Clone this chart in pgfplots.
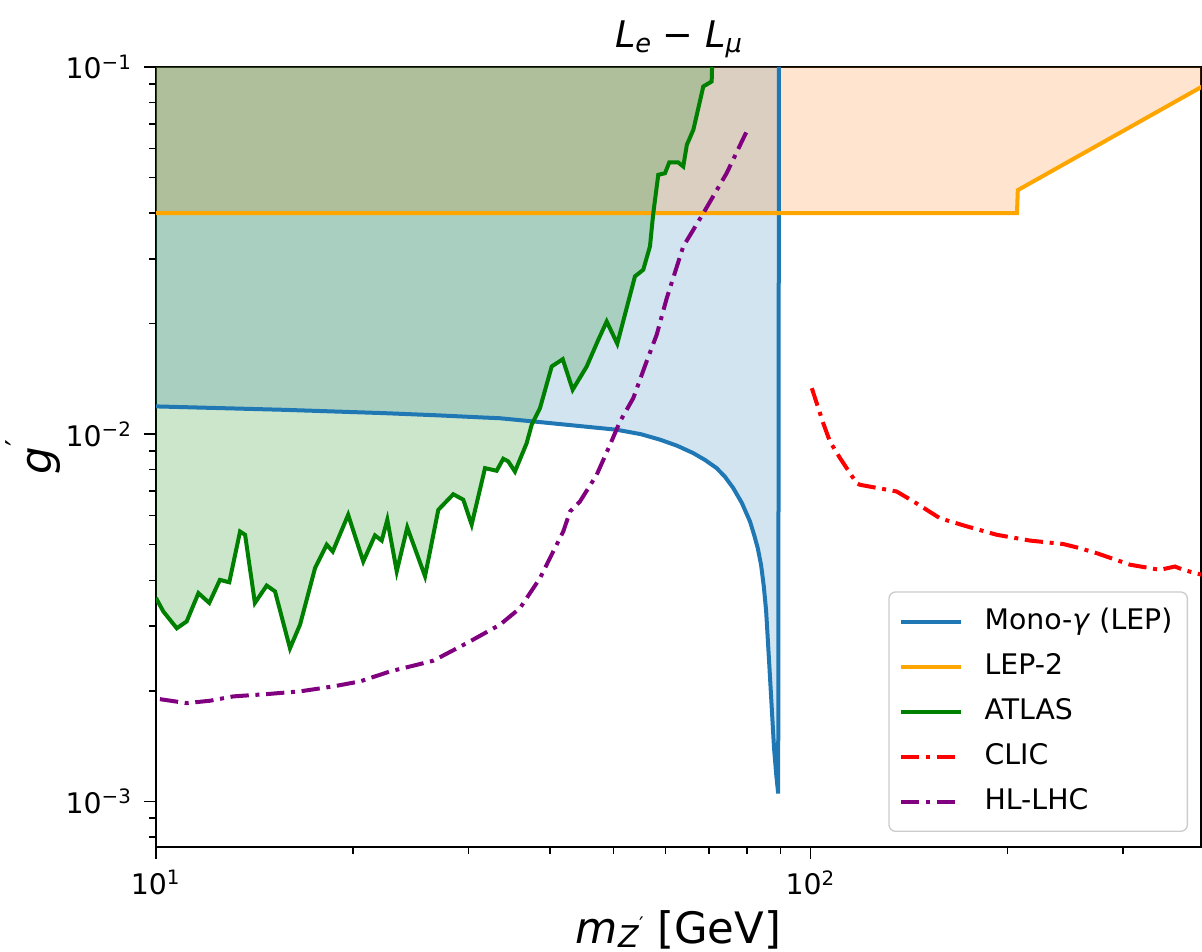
\documentclass[border=0pt]{standalone}
\usepackage{fontspec}
\setmainfont{DejaVu Sans}
\usepackage{pgfplots}
\usepackage{pgfplotstable}
\pgfplotsset{compat=1.18}
\usepgfplotslibrary{fillbetween}

\definecolor{mplblue}{HTML}{1F77B4}
\definecolor{mplorange}{HTML}{FF7F0E}
\definecolor{lineorange}{HTML}{FFA500}
\definecolor{mplgreen}{HTML}{008000}
\definecolor{mplpurple}{HTML}{800080}
\definecolor{mplred}{HTML}{FF0000}

% small lowered / raised text for the labels
\newcommand\lo[2]{\raisebox{-1.5pt}{\fontsize{#1}{#1}\selectfont #2}}
\newcommand\hi[2]{\raisebox{0.55em}{\fontsize{#1}{#1}\selectfont #2}}

% Mono-gamma (LEP)
\pgfplotstableread{
x y
10.0 0.01190
15.65 0.01165
22.25 0.01141
27.0 0.01125
31.62 0.01110
33.5 0.01105
37.7 0.01083
43.0 0.01058
50.55 0.01028
55.0 0.01000
58.87 0.00966
62.5 0.00930
66.16 0.00888
69.0 0.00850
71.84 0.00808
74.0 0.00765
76.17 0.00713
78.5 0.00650
80.79 0.00578
82.0 0.00530
83.0 0.00490
84.0 0.00440
84.8 0.00385
85.5 0.00330
86.4 0.00240
87.2 0.00180
87.9 0.00140
88.6 0.00118
89.2 0.00105
89.45 0.1
}\monodata

% LEP-2
\pgfplotstableread{
x y
10 0.04
206.6 0.04
207.2 0.0462
400 0.0893
}\lepdata

% ATLAS
\pgfplotstableread{
x y
10.0 0.00358
10.26 0.00329
10.76 0.00296
11.14 0.00309
11.61 0.00369
12.06 0.00347
12.52 0.00401
12.94 0.00395
13.44 0.00543
13.68 0.00532
14.16 0.00347
14.76 0.00387
15.20 0.00373
16.02 0.00261
16.60 0.00303
17.50 0.00432
18.23 0.00500
18.62 0.00479
19.66 0.00603
20.73 0.00450
21.60 0.00530
22.12 0.00513
22.56 0.00585
23.32 0.00423
24.20 0.00557
25.76 0.00410
26.99 0.00622
28.45 0.00686
29.47 0.00663
30.35 0.00567
31.81 0.00808
33.14 0.00795
33.92 0.00857
34.52 0.00843
35.34 0.00791
36.83 0.00945
37.49 0.01061
38.60 0.01177
40.22 0.01529
41.81 0.01600
43.30 0.01321
45.49 0.01529
47.38 0.01807
48.80 0.02027
50.65 0.01763
53.90 0.02689
55.50 0.02804
56.82 0.03245
57.49 0.03997
58.51 0.05085
59.91 0.05137
60.81 0.05494
62.77 0.05494
63.88 0.05358
64.70 0.06140
66.20 0.06750
68.55 0.08850
70.60 0.09130
70.70 0.1
}\atlasdata

% CLIC
\pgfplotstableread{
x y
100.4 0.01334
104.5 0.01072
107.0 0.00955
110.9 0.00860
117.5 0.00736
118.9 0.00728
135.3 0.00698
143.5 0.00656
157.6 0.00590
173.1 0.00561
192.4 0.00532
216.3 0.00513
243.1 0.00502
257.8 0.00489
273.5 0.00474
307.4 0.00441
341.6 0.00427
360.1 0.00436
370.8 0.00427
395.7 0.00414
}\clicdata

% HL-LHC
\pgfplotstableread{
x y
10.14 0.001898
11.14 0.001851
12.09 0.001879
13.12 0.001931
14.76 0.001959
16.60 0.001993
18.66 0.002056
20.49 0.002121
22.78 0.002258
26.52 0.002415
29.83 0.002696
33.53 0.003027
35.97 0.003357
38.60 0.004054
40.44 0.004793
41.89 0.005433
42.90 0.006159
44.43 0.006558
47.11 0.007750
49.37 0.009356
51.14 0.01083
53.58 0.01253
56.16 0.01578
58.18 0.01865
60.26 0.02342
63.88 0.03245
68.55 0.03997
74.42 0.05137
79.84 0.06673
}\hllhcdata

\begin{document}
\begin{tikzpicture}
\begin{axis}[
  name=ax,
  set layers,
  xmode=log, ymode=log,
  scale only axis,
  width=313.5pt, height=234pt,
  xmin=10, xmax=394.7,
  ymin=7.51e-4, ymax=0.1,
  xtick={10,100},
  xticklabels={10\textsuperscript{1},10\textsuperscript{2}},
  ytick={0.001,0.01,0.1},
  yticklabels={10\textsuperscript{−3},10\textsuperscript{−2},10\textsuperscript{−1}},
  minor xtick={20,30,40,50,60,70,80,90,200,300},
  minor ytick={0.0008,0.0009,0.002,0.003,0.004,0.005,0.006,0.007,0.008,0.009,0.02,0.03,0.04,0.05,0.06,0.07,0.08,0.09},
  tick align=outside,
  tick pos=left,
  major tick length=3.5pt,
  minor tick length=2pt,
  every tick/.style={black, line width=0.45pt},
  axis line style={line width=0.6pt},
  tick label style={font=\fontsize{8.5}{10}\selectfont},
  title={\textit{L}\lo{7.7}{\textit{e}} − \textit{L}\lo{7.7}{\textit{μ}}},
  every axis title/.style={at={(axis description cs:0.5,1)}, anchor=base, yshift=5.7pt, font=\fontsize{11}{13}\selectfont},
  xlabel={\textit{m}\lo{9}{\textit{Z}\hi{6}{′}} [GeV]},
  every axis x label/.style={at={(axis description cs:0.5,0)}, anchor=base, yshift=-28.8pt, font=\fontsize{13}{15}\selectfont},
  ylabel={\textit{g}\hi{9}{′}},
  every axis y label/.style={at={(axis description cs:-0.118,0.5)}, rotate=90, anchor=center, font=\fontsize{13}{15}\selectfont},
  legend cell align=left,
  legend image code/.code={\draw[#1] (0pt,0pt) -- (18pt,0pt);},
  legend style={at={(1,0)}, anchor=south east, xshift=-3.9pt, yshift=4.5pt,
    font=\fontsize{8.5}{10}\selectfont,
    draw=black!20, rounded corners=2pt, fill=white, fill opacity=0.8, text opacity=1,
    inner xsep=3pt, inner ysep=3pt, row sep=1.7pt,
    nodes={inner sep=1.5pt, text height=6.8pt, text depth=2pt},
    /tikz/every odd column/.append style={column sep=5pt}},
]
\addplot[mplblue, line width=1.2pt, name path=mono] table {\monodata};
\addlegendentry{Mono-\textit{γ} (LEP)}
\addplot[lineorange, line width=1.2pt, name path=lep] table {\lepdata};
\addlegendentry{LEP-2}
\addplot[mplgreen, line width=1.2pt, name path=atlas] table {\atlasdata};
\addlegendentry{ATLAS}
\addplot[mplred, line width=1.2pt, dash pattern=on 5.5pt off 2pt on 1.2pt off 2pt] table {\clicdata};
\addlegendentry{CLIC}
\addplot[mplpurple, line width=1.2pt, dash pattern=on 5.5pt off 2pt on 1.2pt off 2pt] table {\hllhcdata};
\addlegendentry{HL-LHC}

\addplot[draw=none, name path=top, forget plot] coordinates {(10,0.1) (400,0.1)};
\addplot[fill=mplblue, fill opacity=0.2, forget plot] fill between[of=mono and top];
\addplot[fill=mplorange, fill opacity=0.2, forget plot] fill between[of=lep and top];
\addplot[fill=mplgreen, fill opacity=0.2, forget plot] fill between[of=atlas and top];
\end{axis}
\pgfresetboundingbox
\path[use as bounding box] ([shift={(-46.8pt,-31.5pt)}]ax.south west) rectangle ([shift={(313.8pt,254.1pt)}]ax.south west);
\end{tikzpicture}
\end{document}
